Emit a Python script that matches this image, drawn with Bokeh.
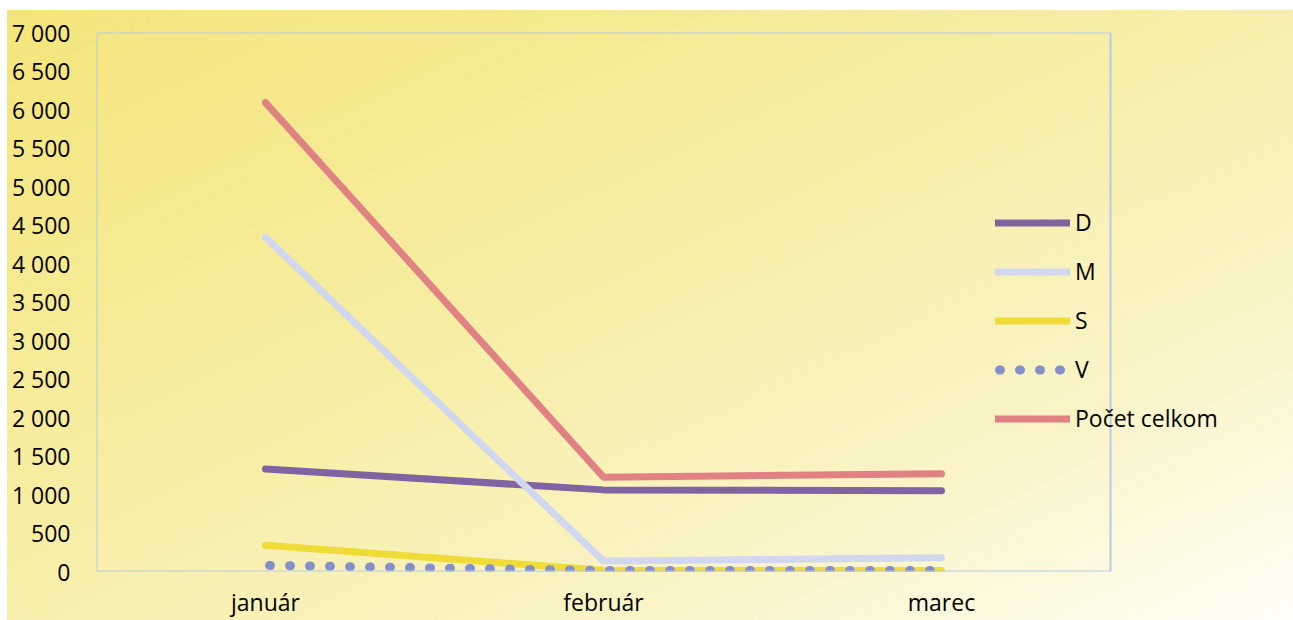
from bokeh.plotting import figure
from bokeh.models import Range1d, FixedTicker, Legend, LegendItem, BoxAnnotation
from bokeh.embed import file_html
from bokeh.resources import INLINE

# ---- data ----
months = ["január", "február", "marec"]
D = [1330, 1060, 1050]
M = [4340, 135, 180]
S = [340, 15, 12]
V = [80, 12, 12]
pocet_celkom = [6090, 1225, 1268]
series_names = ["D", "M", "S", "V", "Počet celkom"]
y_ticks = [0, 500, 1000, 1500, 2000, 2500, 3000, 3500, 4000, 4500, 5000, 5500, 6000, 6500, 7000]
y_tick_labels = ["0", "500", "1 000", "1 500", "2 000", "2 500", "3 000", "3 500",
                 "4 000", "4 500", "5 000", "5 500", "6 000", "6 500", "7 000"]

FONT = "Open Sans"
FS = "23px"

# category slots: month i is centred at i + 0.5
x_pos = [i + 0.5 for i in range(len(months))]
n = len(months)
# frame runs from the plot box's left edge to the right edge of the figure
W, H = 1293, 620
box_left, box_right = 96, 1110
x_end = n * (W - box_left) / (box_right - box_left)

p = figure(
    width=W, height=H,
    x_range=Range1d(0, x_end),
    y_range=Range1d(0, 7000),
    output_backend="svg", toolbar_location=None,
    min_border_left=box_left, min_border_right=0, min_border_top=32, min_border_bottom=49,
)
p.styles = {"background": "linear-gradient(to bottom right, #F4E57A 0%, #F7EEA6 45%, #FAF4C8 75%, #FFFEF6 100%) 7px 10px / 1286px 610px no-repeat #FFFFFF"}
p.background_fill_alpha = 0
p.border_fill_alpha = 0
p.outline_line_color = None
p.xgrid.visible = False
p.ygrid.visible = False

# the plot-area box (spans the category slots and the full value range)
p.add_layout(BoxAnnotation(left=0, right=n, bottom=0, top=7000, fill_alpha=0,
                           line_color="#B9C9E8", line_alpha=1.0, line_width=2))

for ax in (p.xaxis[0], p.yaxis[0]):
    ax.axis_line_color = None
    ax.major_tick_line_color = None
    ax.minor_tick_line_color = None
    ax.major_tick_out = 0
    ax.major_tick_in = 0
    ax.minor_tick_out = 0
    ax.minor_tick_in = 0
    ax.major_label_text_font = FONT
    ax.major_label_text_font_size = FS
    ax.major_label_text_color = "#000000"

p.yaxis.ticker = FixedTicker(ticks=y_ticks)
p.yaxis.major_label_overrides = {t: l for t, l in zip(y_ticks, y_tick_labels)}
p.yaxis.major_label_standoff = 26
p.xaxis.ticker = FixedTicker(ticks=x_pos)
p.xaxis.major_label_overrides = {x: m for x, m in zip(x_pos, months)}
p.xaxis.major_label_standoff = 14

colors = ["#8064A2", "#D0D7EE", "#F0DC38", "#8490C8", "#E08283"]
data = [D, M, S, V, pocet_celkom]
items = []
for name, vals, col in zip(series_names, data, colors):
    if name == "V":
        r = p.line(x_pos, vals, line_color=col, line_width=9, line_dash="1 19",
                   line_dash_offset=16, line_cap="round")
    else:
        r = p.line(x_pos, vals, line_color=col, line_width=7, line_cap="round", line_join="round")
    items.append(LegendItem(label=name, renderers=[r]))

legend = Legend(items=items, location=(899, 137), padding=0, margin=0,
                glyph_width=75, glyph_height=31, label_height=31, spacing=17,
                label_standoff=5, label_text_font=FONT, label_text_font_size=FS,
                label_text_color="#000000",
                background_fill_alpha=0, border_line_color=None)
p.add_layout(legend)

open("out.html", "w").write(file_html(p, INLINE))
